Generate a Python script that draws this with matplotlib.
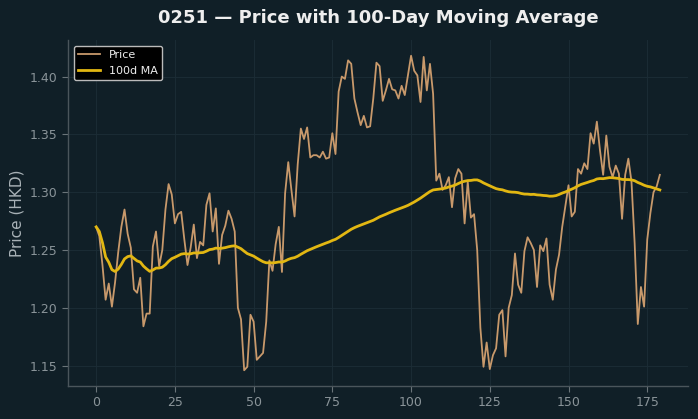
import matplotlib
matplotlib.use("Agg")
import matplotlib.pyplot as plt
import numpy as np
import pandas as pd

title = "0251 — Price with 100-Day Moving Average"
ylabel = "Price (HKD)"
series_names = ["Price", "100d MA"]
ma_window = 100

price = [
    1.270, 1.262, 1.237, 1.207, 1.221, 1.201, 1.222, 1.248, 1.270, 1.285,
    1.264, 1.252, 1.216, 1.213, 1.226, 1.184, 1.195, 1.195, 1.253, 1.266,
    1.236, 1.250, 1.285, 1.307, 1.298, 1.273, 1.281, 1.283, 1.259, 1.237,
    1.252, 1.272, 1.243, 1.257, 1.254, 1.289, 1.299, 1.266, 1.286, 1.238,
    1.263, 1.271, 1.284, 1.277, 1.266, 1.200, 1.190, 1.146, 1.149, 1.194,
    1.188, 1.155, 1.158, 1.161, 1.188, 1.241, 1.232, 1.255, 1.270, 1.231,
    1.299, 1.326, 1.302, 1.279, 1.324, 1.355, 1.346, 1.356, 1.330, 1.332,
    1.332, 1.330, 1.335, 1.329, 1.330, 1.351, 1.333, 1.387, 1.400, 1.398,
    1.414, 1.411, 1.381, 1.369, 1.358, 1.366, 1.356, 1.357, 1.381, 1.412,
    1.409, 1.379, 1.388, 1.398, 1.389, 1.388, 1.381, 1.392, 1.384, 1.401,
    1.418, 1.405, 1.401, 1.378, 1.417, 1.388, 1.411, 1.385, 1.310, 1.316,
    1.302, 1.306, 1.313, 1.287, 1.312, 1.320, 1.316, 1.273, 1.309, 1.278,
    1.281, 1.250, 1.183, 1.149, 1.170, 1.147, 1.159, 1.165, 1.194, 1.198,
    1.158, 1.200, 1.211, 1.247, 1.220, 1.213, 1.249, 1.261, 1.256, 1.250,
    1.218, 1.254, 1.249, 1.260, 1.220, 1.207, 1.233, 1.246, 1.270, 1.288,
    1.306, 1.279, 1.283, 1.320, 1.316, 1.325, 1.320, 1.351, 1.342, 1.361,
    1.336, 1.315, 1.349, 1.322, 1.313, 1.323, 1.316, 1.277, 1.315, 1.329,
    1.309, 1.256, 1.186, 1.218, 1.201, 1.259, 1.282, 1.300, 1.305, 1.315,
]

days = np.arange(len(price))
ma = pd.Series(price).rolling(ma_window, min_periods=1).mean()

bg = "#101f27"
fig = plt.figure(figsize=(6.98, 4.19), dpi=100, facecolor=bg)
ax = fig.add_axes([0.0974, 0.0788, 0.8883, 0.8257], facecolor=bg)

ax.plot(days, price, color="#c8996b", linewidth=1.3, label=series_names[0], zorder=3)
ax.plot(days, ma, color="#e2b712", linewidth=2.0, label=series_names[1], zorder=4)

ax.set_yticks([1.15, 1.20, 1.25, 1.30, 1.35, 1.40])
ax.set_xticks([0, 25, 50, 75, 100, 125, 150, 175])
ax.grid(True, color="#1c2d36", linewidth=0.8, alpha=0.9)
ax.set_axisbelow(True)

for side in ["top", "right"]:
    ax.spines[side].set_visible(False)
for side in ["left", "bottom"]:
    ax.spines[side].set_color("#4a555b")
    ax.spines[side].set_linewidth(1.0)

ax.tick_params(colors="#8a9499", labelsize=9, length=4, color="#6a7479")
ax.set_ylabel(ylabel, color="#a9b2b7", fontsize=11)
ax.set_title(title, color="#eeeeee", fontsize=13, fontweight="bold", pad=12)

leg = ax.legend(loc="upper left", fontsize=8, facecolor="#000000",
                edgecolor="#bbbbbb", framealpha=1.0, labelcolor="#eeeeee")
leg.get_frame().set_linewidth(1.0)

fig.savefig("out.png", dpi=100, facecolor=bg)
